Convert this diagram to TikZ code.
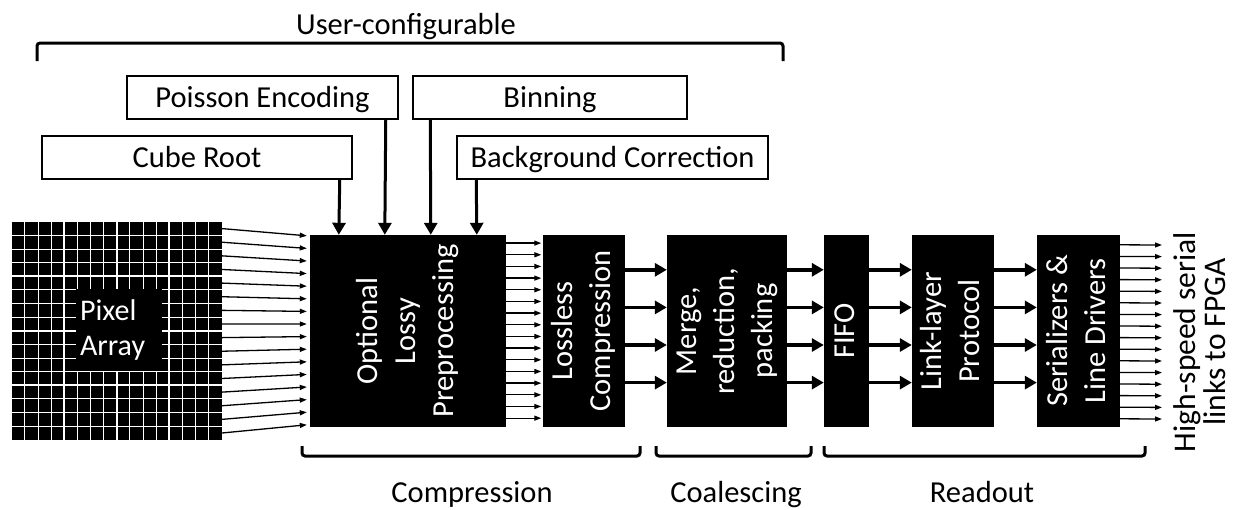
\documentclass[tikz,border=0pt]{standalone}
\usepackage{fontspec}
\usepackage{graphicx}
\setmainfont{Carlito}
\usetikzlibrary{arrows.meta,calc}

% rotated, centred multi-line label
\newcommand\vtext[1]{\rotatebox{90}{\begin{tabular}{@{}c@{}}#1\end{tabular}}}

\begin{document}
\begin{tikzpicture}[x=1pt,y=-1pt,
  every node/.style={font=\fontsize{30.5}{38}\selectfont},
  cfgbox/.style={draw=black, line width=1.5pt, fill=white, minimum height=43pt,
                 inner sep=0pt, text height=20pt, text depth=0pt},
  blockbox/.style={fill=black, text=white, minimum height=192pt, inner sep=0pt},
  thinarrow/.style={line width=1.3pt, -{Triangle[length=7pt,width=5pt]}},
  thickarrow/.style={line width=3.5pt, -{Triangle[length=12pt,width=13pt]}},
  bracket/.style={line width=3pt, rounded corners=3pt},
  ]
\useasboundingbox (0,0) rectangle (1233,509);

% ---------- configurable preprocessing options ----------
\node[cfgbox, minimum width=271pt] (pois) at (262.5,97.5) {Poisson Encoding};
\node[cfgbox, minimum width=274pt] (bin)  at (550,97.5)   {Binning};
\node[cfgbox, minimum width=310pt] (cube) at (197,157.5)  {Cube Root};
\node[cfgbox, minimum width=311pt] (bg)   at (612.5,157.5){Background Correction};

\draw[bracket] (37,61) -- (37,43) -- (783,43) -- (783,61);
\node[anchor=base] (ucfg) at (406,34) {User-configurable};

% ---------- pixel array ----------
\node[fill=black, minimum width=210pt, minimum height=218pt, inner sep=0pt] (grid) at (117,331) {};
\foreach \i [evaluate=\i as \w using {mod(\i,4)==0 ? 2.2 : 1}] in {1,...,15} {
  \draw[white, line width=\w pt] ($(grid.north west)+(\i*13.125,0)$) -- ($(grid.south west)+(\i*13.125,0)$);
  \draw[white, line width=\w pt] ($(grid.north west)+(0,\i*13.625)$) -- ($(grid.north east)+(0,\i*13.625)$);
}
\node[fill=black, text=white, align=left, text width=78pt, minimum height=82pt,
      inner sep=4pt, font=\fontsize{30}{35}\selectfont] (pxl) at (119,330) {Pixel\\Array};

% ---------- processing chain ----------
\node[blockbox, minimum width=196pt] (pre)   at (408,331)    {\vtext{Optional\\Lossy\\Preprocessing}};
\node[blockbox, minimum width=82pt]  (loss)  at (584,331)    {\vtext{Lossless\\Compression}};
\node[blockbox, minimum width=120pt] (merge) at (727,331)    {\vtext{Merge,\\reduction,\\packing}};
\node[blockbox, minimum width=45pt]  (fifo)  at (846.5,331)  {\vtext{FIFO}};
\node[blockbox, minimum width=82pt]  (link)  at (953,331)    {\vtext{Link-layer\\Protocol}};
\node[blockbox, minimum width=83pt]  (ser)   at (1078.5,331) {\vtext{Serializers \&\\Line Drivers}};

% option inputs
\draw[thickarrow, line width=3pt] ([xshift=-13pt]cube.south east) -- ([xshift=29pt]pre.north west);
\draw[thickarrow, line width=3pt] ([xshift=-13pt]pois.south east) -- ([xshift=75pt]pre.north west);
\draw[thickarrow, line width=3pt] ([xshift=18pt]bin.south west)   -- ([xshift=121pt]pre.north west);
\draw[thickarrow, line width=3pt] ([xshift=20pt]bg.south west)    -- ([xshift=167pt]pre.north west);

% pixel array fan-in
\foreach \i in {0,...,15}
  \draw[thinarrow] ($(grid.north east)+(0,6.8+\i*13.625)$) -- ($(pre.north west)+(-3,1+\i*12.6)$);

% preprocessing to lossless compression
\foreach \i in {0,...,15}
  \draw[thinarrow] ($(pre.north east)+(0,8.3+\i*11.67)$) -- ($(loss.north west)+(-1.5,8.3+\i*11.67)$);

% four-lane buses
\foreach \a/\b in {loss/merge, merge/fifo, fifo/link, link/ser}
  \foreach \j in {0,...,3}
    \draw[thickarrow] ($(\a.north east)+(0,35+\j*37.6)$) -- ($(\b.north west)+(0,35+\j*37.6)$);

% serial outputs
\coordinate (fanout) at (1162,235);
\foreach \i in {0,...,15}
  \draw[thinarrow] ($(ser.north east)+(0,10+\i*11.6)$) -- ($(fanout)+(0,10+\i*11.6)$);
\node[font=\fontsize{31.5}{27}\selectfont, inner sep=0pt] (links) at (1204,342)
  {\vtext{High-speed serial\\links to FPGA}};

% ---------- stage groupings ----------
\draw[bracket] (302,446) -- (302,456) -- (640,456) -- (640,446);
\draw[bracket] (656,446) -- (656,456) -- (811,456) -- (811,446);
\draw[bracket] (824,446) -- (824,456) -- (1145,456) -- (1145,446);
\node[anchor=base] (compr) at (472,502) {Compression};
\node[anchor=base] (coal)  at (736,502) {Coalescing};
\node[anchor=base] (rdout) at (982,502) {Readout};
\end{tikzpicture}
\end{document}
